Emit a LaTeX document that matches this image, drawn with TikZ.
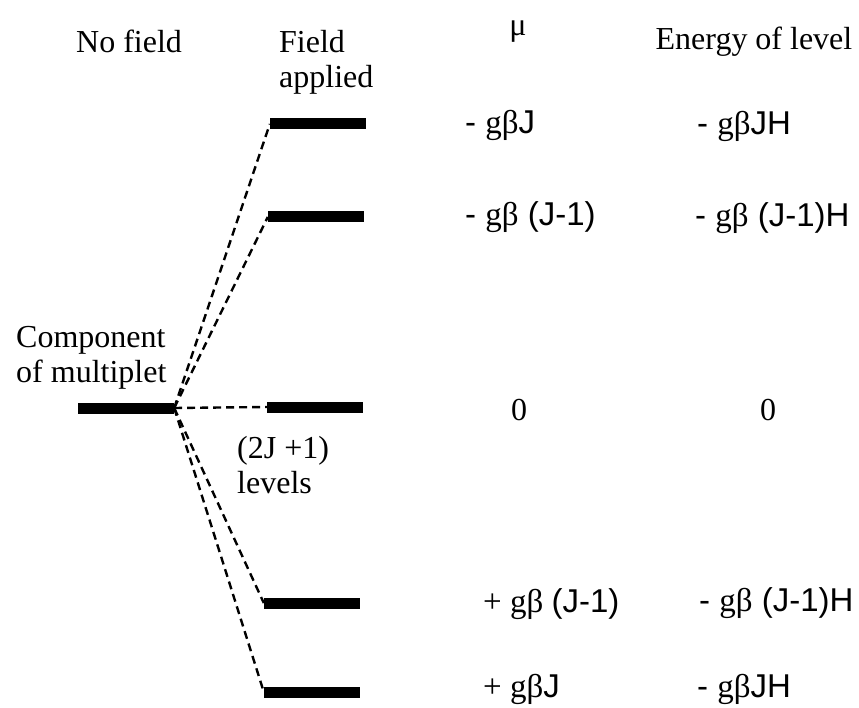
\documentclass[tikz,border=0pt]{standalone}
\usepackage{fontspec}
\setmainfont{Liberation Serif}
\newfontfamily\sansf{Liberation Sans}

\tikzset{
  level/.style={fill=black, inner sep=0pt, minimum width=96pt, minimum height=11pt},
  split/.style={line width=2.4pt, dash pattern=on 8pt off 5pt},
  lbl/.style={inner sep=0pt, font=\fontsize{32}{36}\selectfont},
  val/.style={inner sep=0pt, anchor=base west, font=\fontsize{33}{36}\selectfont}
}

\begin{document}
\begin{tikzpicture}[x=1pt, y=-1pt]

        % Fix the frame to the reference size
        \useasboundingbox (0,0) rectangle (859,708);

        % Headings (multi-line nodes sit on the baseline of their last line)
        \node[lbl, anchor=base west] (nofield) at (76,53) {No field};
        \node[lbl, anchor=base west, align=left, font=\fontsize{32}{35}\selectfont] (applied) at (279,88) {Field\\applied};
        \node[lbl, anchor=base] (mu) at (518,36) {μ};
        \node[lbl, anchor=base] (energy) at (754,50) {Energy of level};

        % Unsplit level
        \node[level] (comp) at (126,408) {};
        \node[lbl, anchor=base west, align=left, font=\fontsize{32}{35}\selectfont] (multiplet) at (16,382) {Component\\of multiplet};

        % Split levels and their dashed links
        \foreach \i/\y/\x in {1/124/318, 2/217/316, 3/407/315, 4/603/312, 5/692/312} {
            \node[level] (lev\i) at (\x,\y) {};
            \draw[split] (comp.east) -- (lev\i.west);
        }

        \node[lbl, anchor=base west, align=left, font=\fontsize{32}{35}\selectfont] (count) at (237,493) {(2J +1)\\levels};

        % Moments
        \node[val] (mu1) at (465,134) {\sansf - {\rmfamily gβ}J};
        \node[val] (mu2) at (465,226) {\sansf - {\rmfamily gβ} (J-1)};
        \node[lbl, anchor=base] (mu3) at (519,420) {0};
        \node[val] (mu4) at (483,612) {+ gβ {\sansf (J-1)}};
        \node[val] (mu5) at (483,697) {+ gβ{\sansf J}};

        % Energies
        \node[val] (en1) at (697,135) {\sansf - {\rmfamily gβ}JH};
        \node[val] (en2) at (695,227) {\sansf - {\rmfamily gβ} (J-1)H};
        \node[lbl, anchor=base] (en3) at (768,420) {0};
        \node[val] (en4) at (699,611) {\sansf - {\rmfamily gβ} (J-1)H};
        \node[val] (en5) at (697,697) {\sansf - {\rmfamily gβ}JH};

    \end{tikzpicture}
\end{document}
